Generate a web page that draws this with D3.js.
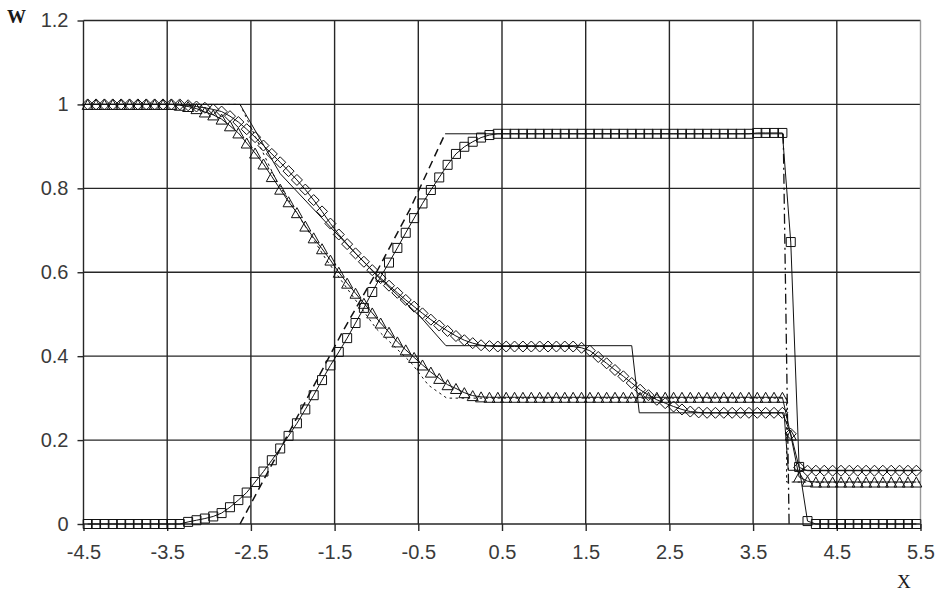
<!DOCTYPE html>
<html>
<head>
<meta charset="utf-8">
<title>W(x)</title>
<style>
  body { margin: 0; background: #fff; }
  .grid line { stroke: #262626; stroke-width: 1.4px; }
  .axis path { display: none; }
  .axis line { stroke: #262626; stroke-width: 1.4px; }
  .axis text { font-family: "Liberation Sans", Arial, sans-serif; fill: #3a3a3a; }
  .num { fill: none; stroke: #111; stroke-width: 1px; }
  .mark { fill: none; stroke: #111; stroke-width: 1px; }
  .exact { fill: none; stroke: #111; stroke-width: 1px; }
  .lbl { font-family: "Liberation Serif", "Times New Roman", serif; font-size: 19px; fill: #1a1a1a; font-weight: bold; }
</style>
</head>
<body>
<script src="https://cdn.jsdelivr.net/npm/d3@7"></script>
<script>
var width = 942,
    height = 611;

// grid of the numerical solution (cell centres)
var xs = [-4.45,-4.35,-4.25,-4.15,-4.05,-3.95,-3.85,-3.75,-3.65,-3.55,
          -3.45,-3.35,-3.25,-3.15,-3.05,-2.95,-2.85,-2.75,-2.65,-2.55,
          -2.45,-2.35,-2.25,-2.15,-2.05,-1.95,-1.85,-1.75,-1.65,-1.55,
          -1.45,-1.35,-1.25,-1.15,-1.05,-0.95,-0.85,-0.75,-0.65,-0.55,
          -0.45,-0.35,-0.25,-0.15,-0.05,0.05,0.15,0.25,0.35,0.45,
          0.55,0.65,0.75,0.85,0.95,1.05,1.15,1.25,1.35,1.45,
          1.55,1.65,1.75,1.85,1.95,2.05,2.15,2.25,2.35,2.45,
          2.55,2.65,2.75,2.85,2.95,3.05,3.15,3.25,3.35,3.45,
          3.55,3.65,3.75,3.85,3.95,4.05,4.15,4.25,4.35,4.45,
          4.55,4.65,4.75,4.85,4.95,5.05,5.15,5.25,5.35,5.45];

// numerical values, diamonds
var wDiamond = [1,1,1,1,1,1,1,1,1,1,
                1,1,0.998,0.995,0.992,0.988,0.983,0.972,0.958,0.941,
                0.922,0.902,0.882,0.862,0.841,0.82,0.797,0.772,0.745,0.716,
                0.69,0.667,0.645,0.625,0.605,0.586,0.568,0.551,0.534,0.518,
                0.502,0.487,0.473,0.46,0.448,0.438,0.431,0.426,0.424,0.423,
                0.423,0.423,0.423,0.423,0.423,0.423,0.423,0.423,0.423,0.42,
                0.413,0.398,0.383,0.367,0.352,0.336,0.32,0.307,0.296,0.288,
                0.28,0.273,0.268,0.266,0.265,0.265,0.265,0.265,0.265,0.265,
                0.265,0.265,0.265,0.265,0.215,0.135,0.127,0.127,0.127,0.127,
                0.127,0.127,0.127,0.127,0.127,0.127,0.127,0.127,0.127,0.127];

// numerical values, triangles
var wTriangle = [1,1,1,1,1,1,1,1,1,1,
                 1,0.998,0.995,0.99,0.982,0.975,0.965,0.949,0.932,0.908,
                 0.884,0.858,0.828,0.798,0.768,0.742,0.71,0.682,0.656,0.629,
                 0.6,0.574,0.55,0.526,0.503,0.479,0.457,0.434,0.415,0.397,
                 0.379,0.362,0.347,0.332,0.323,0.313,0.306,0.303,0.302,0.302,
                 0.302,0.302,0.302,0.302,0.302,0.302,0.302,0.302,0.302,0.302,
                 0.302,0.302,0.302,0.302,0.302,0.302,0.302,0.302,0.302,0.302,
                 0.302,0.302,0.302,0.302,0.302,0.302,0.302,0.302,0.302,0.302,
                 0.302,0.302,0.302,0.302,0.212,0.112,0.102,0.1,0.1,0.1,
                 0.1,0.1,0.1,0.1,0.1,0.1,0.1,0.1,0.1,0.1];

// numerical values, squares
var wSquare = [0,0,0,0,0,0,0,0,0,0,
               0,0,0.005,0.009,0.013,0.018,0.026,0.04,0.057,0.075,
               0.1,0.125,0.152,0.18,0.21,0.24,0.273,0.307,0.343,0.378,
               0.41,0.443,0.479,0.515,0.553,0.589,0.623,0.658,0.694,0.729,
               0.764,0.796,0.826,0.856,0.882,0.899,0.911,0.921,0.927,0.93,
               0.93,0.93,0.93,0.93,0.93,0.93,0.93,0.93,0.93,0.93,
               0.93,0.93,0.93,0.93,0.93,0.93,0.93,0.93,0.93,0.93,
               0.93,0.93,0.93,0.93,0.93,0.93,0.93,0.93,0.93,0.93,
               0.932,0.932,0.932,0.932,0.672,0.136,0.007,0,0,0,
               0,0,0,0,0,0,0,0,0,0];

// exact solutions
var exactSolid = [[-4.5,1],[-2.63,1],[-2.15,0.835],[-1.5,0.697],[-0.96,0.585],[-0.48,0.495],
                  [-0.17,0.425],[2.05,0.425],[2.14,0.265],[3.87,0.265],[3.92,0.128],[5.5,0.128]];
var exactDotted = [[-4.5,1],[-2.63,1],[-2.2,0.82],[-1.6,0.63],[-1.0,0.465],[-0.58,0.383],
                   [-0.38,0.331],[-0.16,0.3],[3.9,0.3],[3.9,0.1],[5.5,0.1]];
var exactDashed = [[-2.63,0],[-2.2,0.16],[-1.8,0.31],[-1.4,0.46],[-1.0,0.6],[-0.6,0.75],[-0.18,0.93]];
var exactPlateau = [[-0.18,0.93],[3.86,0.93]];
var exactDashDot = [[3.86,0.93],[3.93,0]];

var xTicks = [-4.5,-3.5,-2.5,-1.5,-0.5,0.5,1.5,2.5,3.5,4.5,5.5];
var xTickLabels = ["-4.5","-3.5","-2.5","-1.5","-0.5","0.5","1.5","2.5","3.5","4.5","5.5"];
var yTicks = [0,0.2,0.4,0.6,0.8,1,1.2];
var yTickLabels = ["0","0.2","0.4","0.6","0.8","1","1.2"];

var plotLeft = 83.5, plotRight = 920.5, plotTop = 20.5, plotBottom = 524;

var x = d3.scaleLinear().domain([-4.5, 5.5]).range([plotLeft, plotRight]);
var y = d3.scaleLinear().domain([0, 1.2]).range([plotBottom, plotTop]);

var svg = d3.select("body").append("svg")
    .attr("width", width)
    .attr("height", height);

// grid
var grid = svg.append("g").attr("class", "grid");
grid.selectAll(".h").data(yTicks).enter().append("line")
    .attr("x1", plotLeft).attr("x2", plotRight)
    .attr("y1", function(d){ return y(d); })
    .attr("y2", function(d){ return y(d); });
grid.selectAll(".v").data(xTicks).enter().append("line")
    .attr("x1", function(d){ return x(d); })
    .attr("x2", function(d){ return x(d); })
    .attr("y1", plotTop).attr("y2", plotBottom)
    .style("stroke", function(d, i){ return i == xTicks.length - 1 ? "#9a9a9a" : null; });

// axes
svg.append("g").attr("class", "axis")
    .attr("transform", "translate(" + plotLeft + ",0)")
    .call(d3.axisLeft(y).tickValues(yTicks).tickSizeInner(6).tickSizeOuter(0).tickPadding(9)
        .tickFormat(function(d, i){ return yTickLabels[i]; }));
svg.append("g").attr("class", "axis")
    .attr("transform", "translate(0," + plotBottom + ")")
    .call(d3.axisBottom(x).tickValues(xTicks).tickSizeInner(7).tickSizeOuter(0).tickPadding(14)
        .tickFormat(function(d, i){ return xTickLabels[i]; }));
svg.selectAll(".axis text").style("font-size", "20px");

// exact solutions
var pline = d3.line().x(function(d){ return x(d[0]); }).y(function(d){ return y(d[1]); });
svg.append("path").attr("class", "exact").attr("d", pline(exactSolid));
svg.append("path").attr("class", "exact").attr("d", pline(exactDotted))
    .style("stroke-dasharray", "2.5,3.5");
svg.append("path").attr("class", "exact").attr("d", pline(exactDashed))
    .style("stroke-dasharray", "8,5").style("stroke-width", "1.5px");
svg.append("path").attr("class", "exact").attr("d", pline(exactPlateau));
svg.append("path").attr("class", "exact").attr("d", pline(exactDashDot))
    .style("stroke-dasharray", "10,4,2,4").style("stroke-width", "1.3px");

// numerical solutions
var series = [
    { values: wDiamond,  shape: "M0,-5.5L5.5,0L0,5.5L-5.5,0Z" },
    { values: wTriangle, shape: "M0,-5L5.5,5L-5.5,5Z" },
    { values: wSquare,   shape: "M-4.5,-4.5h9v9h-9Z" }
];
var nline = d3.line()
    .x(function(d, i){ return x(xs[i]); })
    .y(function(d){ return y(d); });

series.forEach(function(s){
    svg.append("path").attr("class", "num").attr("d", nline(s.values));
    svg.append("g").selectAll("path")
        .data(s.values)
        .enter()
        .append("path")
        .attr("class", "mark")
        .attr("d", s.shape)
        .attr("transform", function(d, i){
            return "translate(" + x(xs[i]) + "," + y(d) + ")";
        });
});

// axis names
svg.append("text").attr("class", "lbl").attr("x", 7).attr("y", 23).text("W");
svg.append("text").attr("class", "lbl").attr("x", 897).attr("y", 588).style("font-weight", "normal").text("X");
</script>
</body>
</html>
